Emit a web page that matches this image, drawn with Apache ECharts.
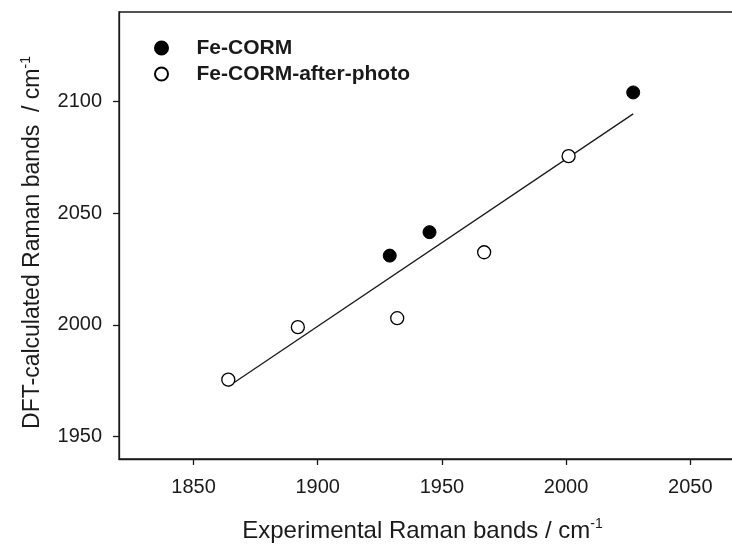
<!DOCTYPE html>
<html>
<head>
<meta charset="utf-8">
<script src="https://cdn.jsdelivr.net/npm/echarts@6/dist/echarts.min.js"></script>
<style>
  html, body { margin: 0; padding: 0; background: #fff; overflow: hidden; }
  #chart { width: 732px; height: 545px; }
</style>
</head>
<body>
<div id="chart"></div>
<script>
// Experimental vs DFT-calculated Raman bands (cm^-1)
var feCormX = [1929, 1945, 2027];
var feCormY = [2031, 2041.5, 2104];
var afterPhotoX = [1864, 1892, 1932, 1967, 2001];
var afterPhotoY = [1975.5, 1999, 2003, 2032.5, 2075.5];
var xTicks = [1850, 1900, 1950, 2000, 2050];
var yTicks = [1950, 2000, 2050, 2100];
var seriesNames = ['Fe-CORM', 'Fe-CORM-after-photo'];

function pairs(xs, ys) {
  return xs.map(function (x, i) { return [x, ys[i]]; });
}

// least-squares fit through all points, drawn across the measured x span
var allX = feCormX.concat(afterPhotoX);
var allY = feCormY.concat(afterPhotoY);
var n = allX.length;
var mx = allX.reduce(function (a, b) { return a + b; }, 0) / n;
var my = allY.reduce(function (a, b) { return a + b; }, 0) / n;
var sxy = 0, sxx = 0;
for (var i = 0; i < n; i++) {
  sxy += (allX[i] - mx) * (allY[i] - my);
  sxx += (allX[i] - mx) * (allX[i] - mx);
}
var slope = sxy / sxx;
var x0 = Math.min.apply(null, allX), x1 = Math.max.apply(null, allX);
var fitLine = [[x0, my + slope * (x0 - mx)], [x1, my + slope * (x1 - mx)]];

var FONT = '"Liberation Sans", Arial, sans-serif';
var ink = '#1a1a1a';
var plain = function (v) { return String(v); };

var chart = echarts.init(document.getElementById('chart'), null, { renderer: 'canvas' });
chart.setOption({
  backgroundColor: '#fff',
  animation: false,
  grid: {
    left: 119, width: 621, top: 12, height: 447,
    outerBoundsMode: 'none', containLabel: false,
    show: true, borderColor: ink, borderWidth: 1.3, backgroundColor: 'transparent'
  },
  legend: {
    orient: 'vertical',
    left: 149, top: 30,
    itemWidth: 60, itemHeight: 13, itemGap: 0,
    data: seriesNames,
    textStyle: { fontFamily: FONT, fontSize: 21, fontWeight: 'bold', color: ink, lineHeight: 26, padding: [0, 0, 0, 0] }
  },
  xAxis: {
    type: 'value', min: 1820, max: 2070,
    name: '{a|Experimental Raman bands / cm}{s|-1}',
    nameLocation: 'middle', nameGap: 58,
    nameTextStyle: {
      padding: [0, 14, 0, 0],
      rich: {
        a: { fontFamily: FONT, fontSize: 24, color: ink, lineHeight: 28 },
        s: { fontFamily: FONT, fontSize: 14, color: ink, verticalAlign: 'top', lineHeight: 14 }
      }
    },
    axisLine: { show: true, lineStyle: { color: ink, width: 1.3 } },
    axisTick: { show: true, inside: false, length: 6, lineStyle: { color: ink, width: 1.3 }, customValues: xTicks },
    axisLabel: { fontFamily: FONT, fontSize: 20, color: ink, margin: 18, customValues: xTicks, formatter: plain },
    splitLine: { show: false }
  },
  yAxis: {
    type: 'value', min: 1940, max: 2140,
    name: '{a|DFT-calculated Raman bands  / cm}{s|-1}',
    nameLocation: 'middle', nameGap: 72, nameRotate: 90,
    nameTextStyle: {
      padding: [0, 14, 0, 0],
      rich: {
        a: { fontFamily: FONT, fontSize: 23, color: ink, lineHeight: 28 },
        s: { fontFamily: FONT, fontSize: 14, color: ink, verticalAlign: 'top', lineHeight: 14 }
      }
    },
    axisLine: { show: true, lineStyle: { color: ink, width: 1.3 } },
    axisTick: { show: true, inside: false, length: 6, lineStyle: { color: ink, width: 1.3 }, customValues: yTicks },
    axisLabel: { fontFamily: FONT, fontSize: 20, color: ink, margin: 17, customValues: yTicks, formatter: plain },
    splitLine: { show: false }
  },
  series: [
    {
      name: 'fit', type: 'line', data: fitLine, symbol: 'none',
      lineStyle: { color: ink, width: 1.3 }, silent: true, z: 1
    },
    {
      name: seriesNames[0], type: 'scatter', data: pairs(feCormX, feCormY),
      symbol: 'circle', symbolSize: 13,
      itemStyle: { color: '#000', borderColor: '#000', borderWidth: 1, opacity: 1 }, z: 3
    },
    {
      name: seriesNames[1], type: 'scatter', data: pairs(afterPhotoX, afterPhotoY),
      symbol: 'circle', symbolSize: 13,
      itemStyle: { color: '#fff', borderColor: '#000', borderWidth: 1.3, opacity: 1 }, z: 3
    }
  ]
});
</script>
</body>
</html>
